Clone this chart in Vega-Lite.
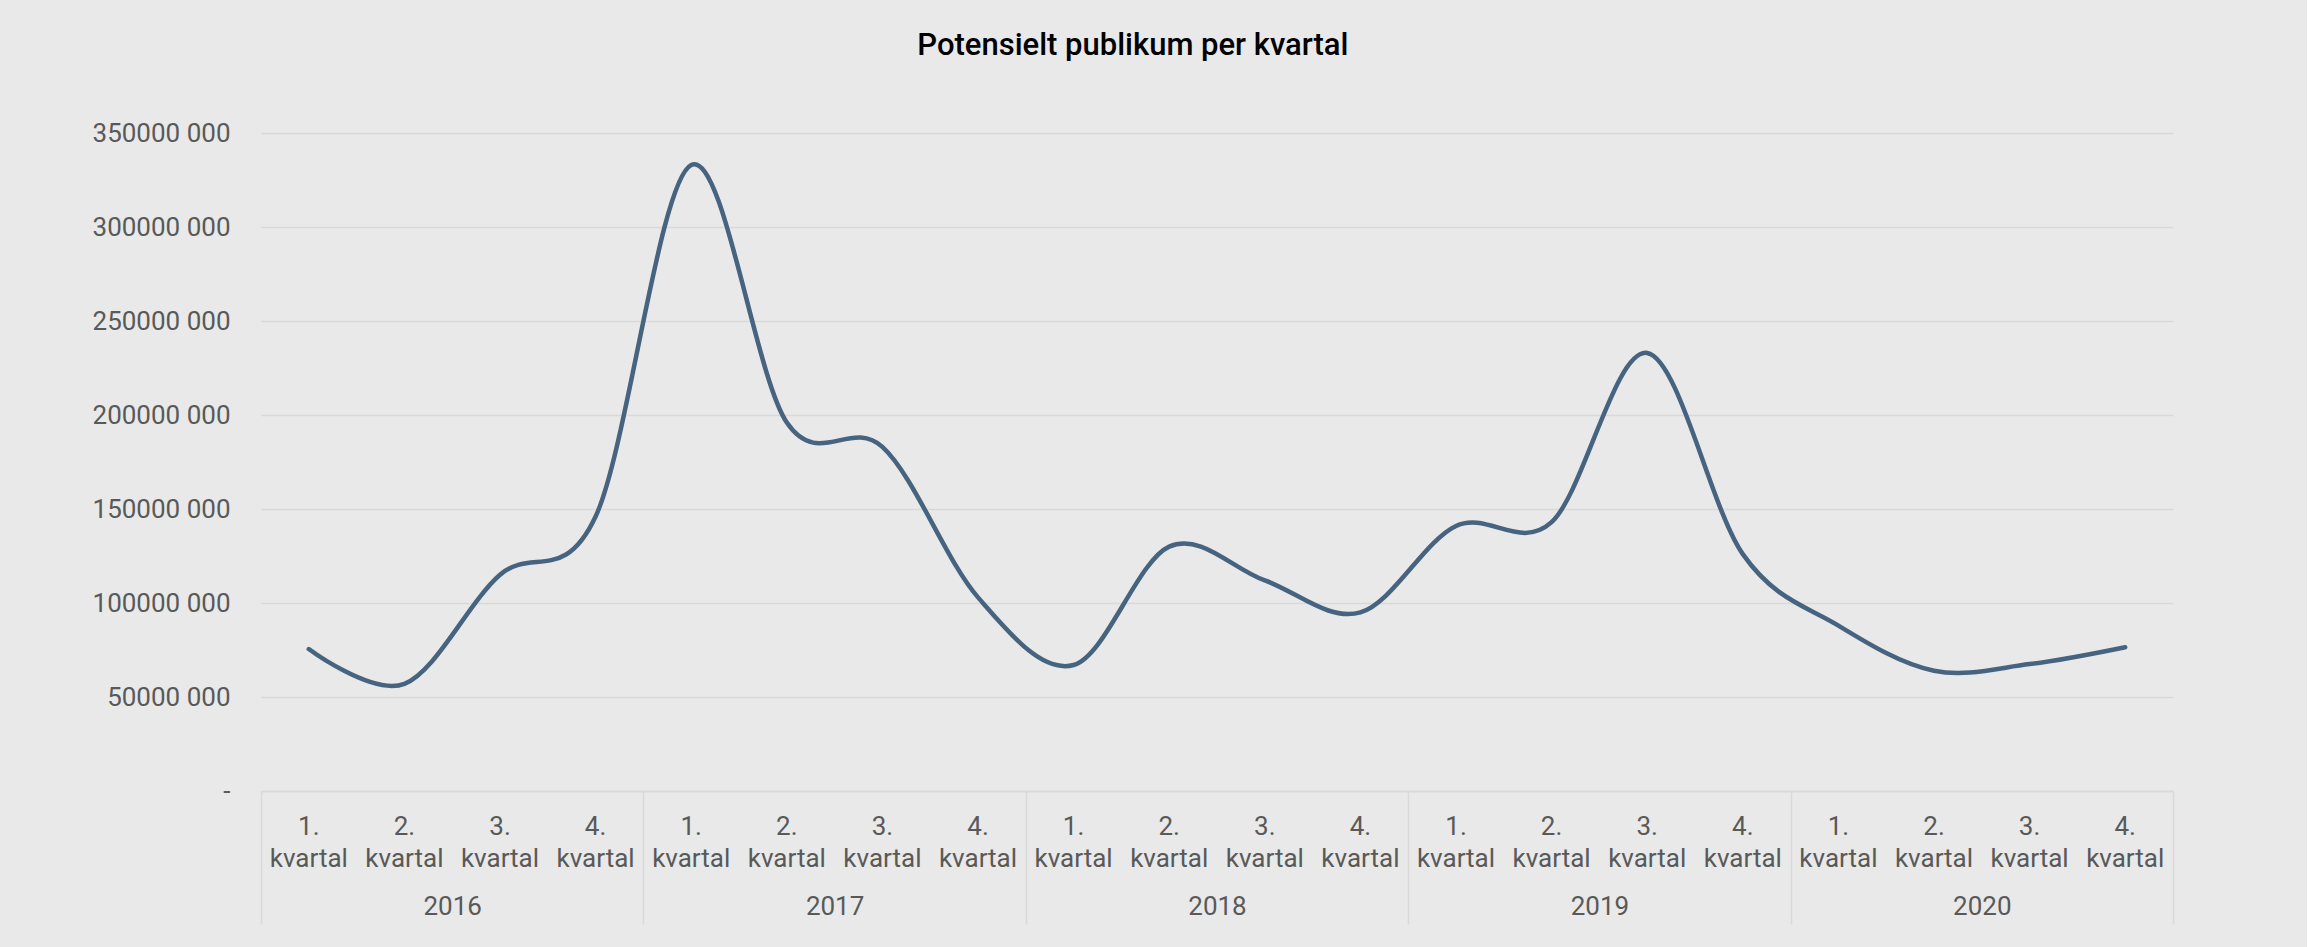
{
  "$schema": "https://vega.github.io/schema/vega-lite/v6.json",
  "width": 1912,
  "height": 658,
  "padding": {"left": 92, "top": 30, "right": 133, "bottom": 24},
  "background": "#e8e9e8",
  "title": {
    "text": "Potensielt publikum per kvartal",
    "font": "Roboto",
    "fontSize": 31,
    "fontWeight": 500,
    "color": "#000000",
    "anchor": "middle",
    "frame": "bounds",
    "offset": 58
  },
  "config": {"view": {"stroke": null}},
  "data": {
    "values": [
      {"kvartal": "2016-1", "aar": "2016", "publikum": 75500000},
      {"kvartal": "2016-2", "aar": "2016", "publikum": 57000000},
      {"kvartal": "2016-3", "aar": "2016", "publikum": 115000000},
      {"kvartal": "2016-4", "aar": "2016", "publikum": 146000000},
      {"kvartal": "2017-1", "aar": "2017", "publikum": 333000000},
      {"kvartal": "2017-2", "aar": "2017", "publikum": 196000000},
      {"kvartal": "2017-3", "aar": "2017", "publikum": 183000000},
      {"kvartal": "2017-4", "aar": "2017", "publikum": 103000000},
      {"kvartal": "2018-1", "aar": "2018", "publikum": 67000000},
      {"kvartal": "2018-2", "aar": "2018", "publikum": 130000000},
      {"kvartal": "2018-3", "aar": "2018", "publikum": 112000000},
      {"kvartal": "2018-4", "aar": "2018", "publikum": 95000000},
      {"kvartal": "2019-1", "aar": "2019", "publikum": 141000000},
      {"kvartal": "2019-2", "aar": "2019", "publikum": 143000000},
      {"kvartal": "2019-3", "aar": "2019", "publikum": 233000000},
      {"kvartal": "2019-4", "aar": "2019", "publikum": 126000000},
      {"kvartal": "2020-1", "aar": "2020", "publikum": 88000000},
      {"kvartal": "2020-2", "aar": "2020", "publikum": 64000000},
      {"kvartal": "2020-3", "aar": "2020", "publikum": 67500000},
      {"kvartal": "2020-4", "aar": "2020", "publikum": 76500000}
    ]
  },
  "layer": [
    {
      "mark": {"type": "line", "interpolate": "cardinal", "tension": 0, "color": "#46637f", "strokeWidth": 4.5, "strokeCap": "round"},
      "encoding": {
        "x": {
          "field": "kvartal",
          "type": "nominal",
          "sort": null,
          "bandPosition": 0.5,
          "scale": {"type": "band", "paddingInner": 0, "paddingOuter": 0},
          "axis": {
            "title": null,
            "orient": "bottom",
            "ticks": false,
            "domain": true,
            "domainColor": "#d9d9d9",
            "domainWidth": 1.5,
            "grid": false,
            "labelAngle": 0,
            "labelFont": "Roboto",
            "labelFontSize": 26,
            "labelColor": "#595959",
            "labelPadding": 22,
            "labelLineHeight": 32,
            "labelOverlap": false,
            "labelBound": false,
            "labelExpr": "[substring(datum.value, 5, 6) + '.', 'kvartal']"
          }
        },
        "y": {
          "field": "publikum",
          "type": "quantitative",
          "scale": {"domain": [0, 350000000], "nice": false},
          "axis": {
            "title": null,
            "values": [0, 50000000, 100000000, 150000000, 200000000, 250000000, 300000000, 350000000],
            "ticks": false,
            "domain": false,
            "grid": true,
            "gridColor": "#d9d9d9",
            "gridWidth": 1.5,
            "labelFont": "Roboto",
            "labelFontSize": 26,
            "labelColor": "#595959",
            "labelPadding": 31,
            "labelExpr": "datum.value == 0 ? '-\u00a0\u00a0\u00a0\u00a0' : format(datum.value / 1000, 'd') + ' 000'"
          }
        }
      }
    },
    {
      "mark": {"type": "point", "opacity": 0},
      "encoding": {
        "x": {
          "field": "aar",
          "type": "nominal",
          "sort": null,
          "scale": {"type": "band", "paddingInner": 0, "paddingOuter": 0},
          "axis": {
            "title": null,
            "orient": "bottom",
            "ticks": true,
            "tickBand": "extent",
            "tickSize": 133,
            "tickColor": "#d9d9d9",
            "tickWidth": 1.5,
            "domain": false,
            "grid": false,
            "labelAngle": 0,
            "labelFont": "Roboto",
            "labelFontSize": 26,
            "labelColor": "#595959",
            "labelPadding": -31,
            "labelOverlap": false
          }
        }
      }
    }
  ],
  "resolve": {"scale": {"x": "independent"}, "axis": {"x": "independent"}}
}
